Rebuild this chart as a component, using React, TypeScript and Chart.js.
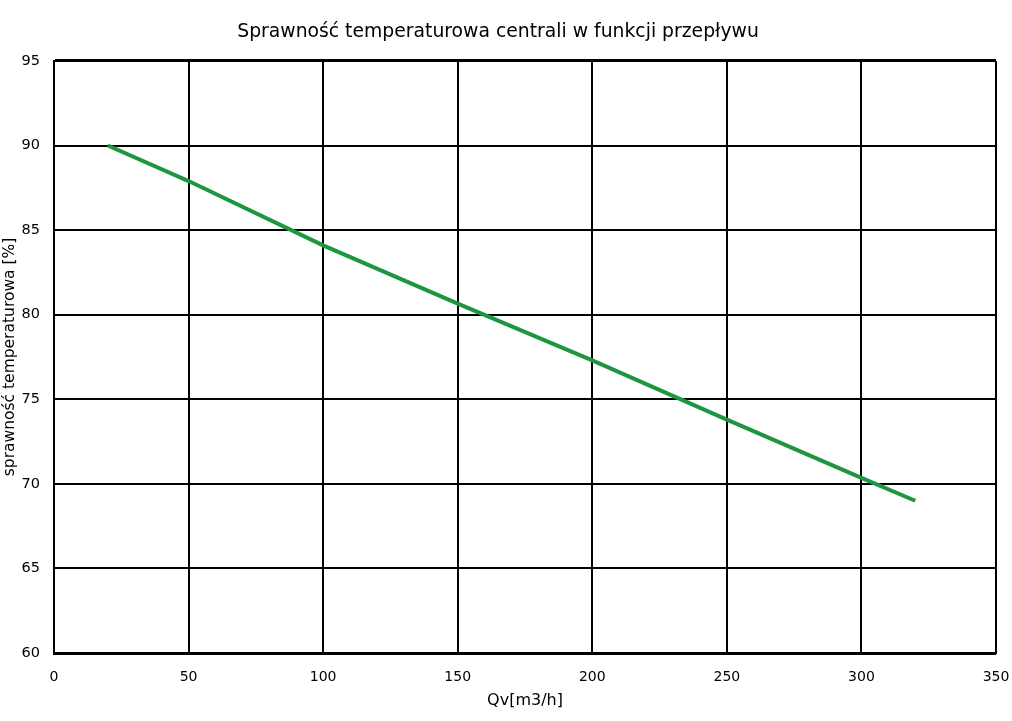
import React, { useEffect, useRef } from "react";
import { Chart, registerables } from "chart.js";

Chart.register(...registerables);

const flowValues = [20, 50, 100, 150, 200, 250, 300, 320];
const efficiencyValues = [90, 87.9, 84.1, 80.65, 77.3, 73.8, 70.35, 69];
const chartTitle = "Sprawność temperaturowa centrali w funkcji przepływu";
const xTitle = "Qv[m3/h]";
const yTitle = "sprawność temperaturowa [%]";

export default function App() {
  const canvasRef = useRef<HTMLCanvasElement | null>(null);

  useEffect(() => {
    document.body.style.margin = "0";
    const canvas = canvasRef.current;
    if (!canvas) return;
    const font = "Tahoma, 'DejaVu Sans', sans-serif";
    const chart = new Chart(canvas, {
      type: "line",
      data: {
        datasets: [
          {
            data: flowValues.map((x, i) => ({ x, y: efficiencyValues[i] })),
            borderColor: "#1E9640",
            backgroundColor: "#1E9640",
            borderWidth: 4,
            pointRadius: 0,
            tension: 0,
          },
        ],
      },
      options: {
        animation: false,
        responsive: false,
        maintainAspectRatio: false,
        layout: { padding: { left: 0, right: 16, top: 0, bottom: 0 } },
        plugins: {
          legend: { display: false },
          tooltip: { enabled: false },
          title: {
            display: true,
            text: chartTitle,
            color: "#000",
            font: { family: font, size: 18.8, weight: "normal" },
            padding: { top: 21, bottom: 17.4 },
          },
        },
        scales: {
          x: {
            type: "linear",
            min: 0,
            max: 350,
            ticks: {
              stepSize: 50,
              color: "#000",
              font: { family: font, size: 14 },
              padding: 15.5,
              maxRotation: 0,
            },
            grid: {
              color: "#000",
              lineWidth: 2,
              drawTicks: false,
            },
            border: { display: true, color: "#000", width: 2 },
            title: {
              display: true,
              text: xTitle,
              color: "#000",
              font: { family: font, size: 16 },
              padding: { top: 4, bottom: 11 },
            },
            afterFit: (scale: any) => {
              scale.height = 68;
              scale.paddingLeft = 0;
              scale.paddingRight = 0;
            },
          },
          y: {
            type: "linear",
            min: 60,
            max: 95,
            ticks: {
              stepSize: 5,
              color: "#000",
              font: { family: font, size: 14.5 },
              padding: 14,
            },
            grid: {
              color: "#000",
              lineWidth: (ctx: any) =>
                ctx.tick && (ctx.tick.value === 95 || ctx.tick.value === 60) ? 3 : 2,
              drawTicks: false,
            },
            border: { display: true, color: "#000", width: 2 },
            title: {
              display: true,
              text: yTitle,
              color: "#000",
              font: { family: font, size: 15.5 },
              padding: { top: 1, bottom: 4 },
            },
            afterFit: (scale: any) => {
              scale.width = 54;
              scale.paddingTop = 0;
              scale.paddingBottom = 0;
            },
          },
        },
      },
    });
    return () => chart.destroy();
  }, []);

  return (
    <div style={{ width: 1012, height: 721, background: "#fff" }}>
      <canvas ref={canvasRef} width={1012} height={721} style={{ display: "block" }} />
    </div>
  );
}
